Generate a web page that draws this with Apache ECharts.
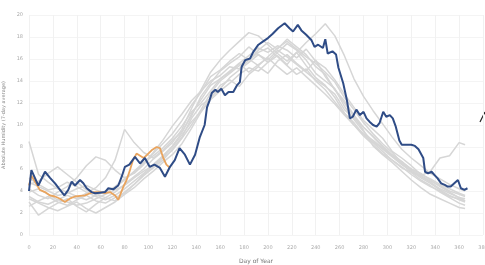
<!DOCTYPE html>
<html>
<head>
<meta charset="utf-8">
<script src="https://cdn.jsdelivr.net/npm/echarts@6/dist/echarts.min.js"></script>
<style>
  html, body { margin: 0; padding: 0; background: #fff; }
  #chart { width: 485px; height: 265px; }
</style>
</head>
<body>
<div id="chart"></div>
<script>
// highlighted year (blue), [day, value]
var blueLine = [
  [0,4.0],[2,5.9],[7.8,4.5],[13.4,5.75],[17.6,5.2],[21.8,4.7],[24.5,4.3],[29.6,3.6],[32.9,4.1],[35.7,4.85],
  [38.5,4.5],[42.7,5.0],[45.5,4.7],[48.3,4.25],[52.5,3.9],[55.2,3.8],[59.4,3.85],[63.6,3.9],[66.4,4.25],[70.5,4.15],
  [74.7,4.5],[77.6,5.3],[80.3,6.2],[84,6.4],[88.7,7.1],[93,6.5],[97,7.0],[101,6.2],[105,6.4],[109.6,6.1],
  [113.8,5.3],[118,6.2],[122,6.8],[126,7.9],[130.5,7.3],[134.7,6.4],[139,7.3],[143,8.9],[147,10.0],[149,11.6],
  [151,12.2],[153,12.9],[156,13.2],[158,13.0],[161,13.3],[164,12.7],[167,13.0],[171,13.0],[174,13.6],[176.5,13.9],
  [178,15.3],[181,15.9],[185,16.05],[188,16.7],[192,17.3],[196,17.6],[200,17.9],[204,18.3],[208.5,18.8],[214,19.25],
  [218,18.8],[221,18.5],[225,19.1],[228,18.6],[232,18.2],[236.5,17.7],[239,17.1],[242,17.3],[246,17.0],[248,17.8],
  [250,16.5],[254,16.7],[257,16.4],[259,15.2],[263,13.8],[266,12.3],[268.6,10.6],[271,10.75],[274,11.4],[277,10.9],
  [280,11.2],[282.5,10.6],[285,10.3],[288,10.0],[291,9.85],[293.5,10.2],[296.5,11.2],[299,10.75],[302,10.9],[304.5,10.6],
  [307,9.85],[310,8.6],[312,8.2],[316,8.2],[320,8.2],[323,8.1],[326,7.8],[330,7.0],[331.5,5.75],[334,5.6],
  [337,5.75],[339.5,5.45],[342,5.15],[345,4.7],[348,4.55],[350.5,4.4],[353,4.4],[356,4.7],[359,5.0],[361.5,4.25],
  [364.5,4.1],[367,4.25]
];

// partial year (orange)
var orangeLine = [
  [0,4.5],[2,5.4],[5,4.85],[9,4.1],[13.4,3.9],[17.6,3.6],[21.8,3.5],[26,3.3],[30,3.0],[34,3.3],
  [38.5,3.5],[42.7,3.55],[46.9,3.6],[51,3.8],[55,3.9],[59.4,3.9],[63.6,3.8],[67.8,3.9],[72,3.6],[74.7,3.2],
  [79,4.4],[81.7,5.0],[84.5,5.9],[87,6.8],[90,7.4],[93,7.2],[96,7.0],[99,7.3],[102.6,7.7],[106.8,8.0],
  [109.6,7.9],[112.4,7.0],[115,6.4],[118,6.1]
];

// other years (gray), sampled on grayDays
var grayDays = [0,8,16,24,32,40,48,56,64,72,80,88,96,104,112,120,128,136,144,152,160,168,176,184,192,200,208,216,224,232,240,248,256,264,272,280,288,296,304,312,320,328,336,344,352,360,365];
var gray1 = [8.5,5.5,4.8,4.2,3.9,3.5,3.2,3.6,4.0,4.3,5.0,5.8,6.6,7.2,7.9,8.8,9.9,11.2,12.0,13.1,14.2,14.8,15.6,16.3,17.0,16.6,17.2,16.8,16.1,16.9,15.8,15.2,14.1,12.8,11.6,10.4,9.6,8.8,7.6,7.0,6.3,5.5,5.1,4.6,4.2,3.8,3.6];
var gray2 = [3.0,1.8,2.4,2.9,3.3,2.6,2.1,2.8,3.4,3.1,3.9,4.6,5.4,6.1,6.8,7.8,8.9,10.6,11.8,12.4,13.6,14.1,13.5,14.6,15.3,14.7,15.8,16.4,15.6,14.9,15.9,14.4,13.2,12.0,10.8,9.5,8.1,7.3,6.6,5.8,5.0,4.3,3.7,3.3,2.9,2.5,2.4];
var gray3 = [4.2,3.6,3.3,3.9,4.4,5.2,6.3,7.1,6.8,5.9,5.2,5.6,6.4,7.4,8.3,9.2,10.4,11.8,13.0,14.4,15.0,15.8,16.5,15.9,16.8,17.5,16.9,17.8,17.1,16.4,15.3,14.6,13.2,12.2,10.9,9.8,9.0,8.1,7.3,6.7,6.0,5.6,5.0,4.4,3.9,3.4,3.1];
var gray4 = [3.5,3.0,2.8,3.2,3.6,3.3,3.8,4.3,5.2,6.8,9.6,8.4,7.5,7.0,7.7,8.6,9.4,10.8,12.6,13.8,14.9,15.6,16.2,17.1,16.4,15.7,16.6,17.4,16.8,15.9,14.7,14.0,13.3,11.7,10.5,9.4,8.5,7.8,7.1,6.4,5.8,5.2,4.7,4.1,3.6,3.2,3.0];
var gray5 = [4.6,4.9,5.6,6.2,5.5,4.8,4.1,3.7,3.4,3.9,4.6,5.3,6.0,6.9,7.6,8.4,9.6,11.5,13.2,14.8,15.9,16.8,17.6,18.4,18.1,17.3,16.5,15.8,16.6,15.4,14.3,13.6,12.5,11.1,10.2,9.1,8.4,7.6,6.8,6.2,5.5,4.9,4.4,4.0,3.5,3.3,3.1];
var gray6 = [3.9,4.2,3.7,3.2,3.0,2.7,2.9,3.3,3.7,4.1,4.5,5.2,5.8,6.3,7.1,8.0,9.1,10.3,11.2,12.3,13.1,13.8,14.6,15.2,14.9,15.7,16.3,15.5,16.6,17.5,18.3,19.2,18.1,16.3,14.2,12.6,11.3,10.1,8.9,7.8,7.0,6.3,5.6,5.1,4.6,4.2,4.0];
var gray7 = [4.8,4.4,4.0,3.6,3.8,4.2,4.5,4.1,3.8,4.4,5.1,5.7,6.5,7.5,8.6,9.9,11.0,12.2,13.1,14.0,14.5,15.3,15.1,15.9,16.6,17.0,16.2,15.4,14.6,15.1,14.0,13.2,12.1,11.0,10.0,9.0,8.2,7.4,6.8,6.1,5.7,5.4,5.8,7.0,7.2,8.4,8.2];
var gray8 = [2.6,3.1,3.5,3.0,2.7,3.2,3.6,3.1,2.9,3.4,3.8,4.6,5.5,6.2,7.0,7.7,8.8,10.0,11.4,12.9,14.0,14.7,15.4,16.0,15.4,16.2,17.0,17.6,16.9,16.2,15.6,14.8,13.9,12.5,11.4,10.2,9.2,8.3,7.5,6.6,5.9,5.3,4.8,4.2,3.8,3.4,3.3];
var gray9 = [5.2,4.6,4.1,4.3,4.8,4.4,3.9,3.5,3.2,3.6,4.2,4.9,5.6,6.4,7.2,8.1,9.3,11.0,12.3,13.6,14.2,14.9,15.6,14.8,15.5,16.1,15.3,14.6,15.2,14.4,13.6,12.8,11.9,10.9,10.0,9.2,8.6,7.9,7.2,6.5,5.7,5.0,4.5,3.9,3.4,2.9,2.7];
var gray10 = [3.3,2.9,2.5,2.2,2.6,3.0,2.4,2.0,2.5,3.0,3.7,4.3,5.1,5.8,6.6,7.3,8.3,9.7,11.2,12.5,13.3,14.3,15.0,15.7,16.4,15.9,16.8,16.2,15.5,14.8,14.1,13.5,12.8,11.4,10.6,9.8,8.9,8.0,7.2,6.6,6.0,5.4,4.9,4.5,4.0,3.7,3.5];
var grayLines = [gray1, gray2, gray3, gray4, gray5, gray6, gray7, gray8, gray9, gray10];

var xMin = 0, xMax = 380, xStep = 20;
var yMin = 0, yMax = 20, yStep = 2;

var series = [];
grayLines.forEach(function(vals, i){
  series.push({
    name: 'gray' + (i + 1),
    type: 'line',
    showSymbol: false,
    silent: true,
    data: grayDays.map(function(d, j){ return [d, vals[j]]; }),
    lineStyle: { color: '#d6d6d6', width: 1.5 },
    z: 1
  });
});
series.push({
  name: 'orange',
  type: 'line',
  showSymbol: false,
  data: orangeLine,
  lineStyle: { color: '#e9a45e', width: 1.8 },
  z: 3
});
series.push({
  name: 'blue',
  type: 'line',
  showSymbol: false,
  data: blueLine,
  lineStyle: { color: '#2f4c86', width: 2 },
  z: 4
});

var option = {
  animation: false,
  backgroundColor: '#fff',
  grid: { left: 29, right: 2, top: 15, bottom: 30, containLabel: false, outerBoundsMode: 'none' },
  xAxis: {
    type: 'value',
    min: xMin, max: xMax, interval: xStep,
    name: 'Day of Year',
    nameLocation: 'middle',
    nameGap: 23,
    nameTextStyle: { fontSize: 6, color: '#777', fontFamily: 'DejaVu Sans' },
    axisLine: { show: false },
    axisTick: { show: false },
    axisLabel: { fontSize: 5, color: '#aaa', margin: 10, fontFamily: 'DejaVu Sans' },
    splitLine: { show: true, lineStyle: { color: '#f1f1f1', width: 1 } }
  },
  yAxis: {
    type: 'value',
    min: yMin, max: yMax, interval: yStep,
    name: 'Absolute Humidity (7-day average)',
    nameLocation: 'middle',
    nameGap: 19,
    nameTextStyle: { fontSize: 5, color: '#888', fontFamily: 'DejaVu Sans' },
    axisLine: { show: false },
    axisTick: { show: false },
    axisLabel: { fontSize: 5, color: '#aaa', margin: 6, fontFamily: 'DejaVu Sans' },
    splitLine: { show: true, lineStyle: { color: '#f4f4f4', width: 1 } }
  },
  graphic: [{
    type: 'line',
    shape: { x1: 480, y1: 122, x2: 485, y2: 112 },
    style: { stroke: '#222', lineWidth: 1.2 }
  }],
  series: series
};

var myChart = echarts.init(document.getElementById('chart'));
myChart.setOption(option);
</script>
</body>
</html>
